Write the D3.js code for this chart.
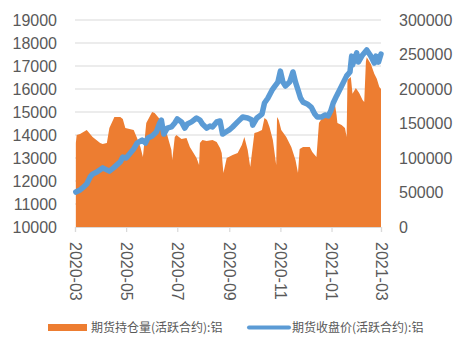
<!DOCTYPE html>
<html><head><meta charset="utf-8">
<script src="https://cdn.jsdelivr.net/npm/d3@7"></script>
<style>
html,body{margin:0;padding:0;background:#fff;}
svg{display:block;font-family:"Liberation Sans",Arial,sans-serif;}
</style></head>
<body>
<script>
// ---- data ----
const oiDates = ["2020-03-02","2020-03-03","2020-03-07","2020-03-15","2020-03-22","2020-03-31","2020-04-03","2020-04-08","2020-04-11","2020-04-17","2020-04-24","2020-04-27","2020-04-30","2020-05-10","2020-05-14","2020-05-18","2020-05-21","2020-05-25","2020-06-01","2020-06-04","2020-06-08","2020-06-13","2020-06-19","2020-06-24","2020-06-25","2020-06-28","2020-06-30","2020-07-06","2020-07-12","2020-07-16","2020-07-24","2020-07-27","2020-07-28","2020-07-31","2020-08-05","2020-08-12","2020-08-17","2020-08-21","2020-08-23","2020-08-25","2020-08-29","2020-09-05","2020-09-11","2020-09-16","2020-09-19","2020-09-23","2020-09-26","2020-10-01","2020-10-05","2020-10-10","2020-10-13","2020-10-16","2020-10-19","2020-10-23","2020-10-27","2020-10-28","2020-10-30","2020-11-02","2020-11-08","2020-11-14","2020-11-19","2020-11-22","2020-11-24","2020-11-28","2020-12-06","2020-12-09","2020-12-14","2020-12-17","2020-12-20","2020-12-28","2021-01-02","2021-01-05","2021-01-07","2021-01-08","2021-01-13","2021-01-17","2021-01-19","2021-01-20","2021-01-24","2021-01-26","2021-01-30","2021-02-03","2021-02-07","2021-02-09","2021-02-11","2021-02-12","2021-02-17","2021-02-21","2021-02-24","2021-02-27","2021-03-01"];
const oiValues = [121700,133300,134800,140600,130400,121700,120300,121700,143500,159400,159400,156500,143500,140600,129000,116000,101500,150700,166700,165200,159400,152200,133300,111600,97100,130400,133300,127500,129000,116000,100000,89900,121700,126100,124600,126100,123200,114500,107200,78300,100000,104300,107200,118800,130400,111600,87000,136200,137700,140600,158000,155100,144900,126100,89900,159400,155100,140600,130400,116000,97100,78300,113000,115900,115900,108700,101500,150700,156500,160900,166700,178300,162300,150700,147800,143500,130400,213000,217400,193000,201400,194200,184100,181200,240000,246000,236000,222000,215000,202900,200000];

const priceDates = ["2020-03-02","2020-03-07","2020-03-10","2020-03-15","2020-03-19","2020-03-22","2020-03-27","2020-04-03","2020-04-11","2020-04-16","2020-04-20","2020-04-24","2020-04-27","2020-05-01","2020-05-04","2020-05-10","2020-05-14","2020-05-20","2020-05-24","2020-05-27","2020-06-01","2020-06-06","2020-06-10","2020-06-12","2020-06-14","2020-06-15","2020-06-19","2020-06-24","2020-06-28","2020-07-01","2020-07-06","2020-07-10","2020-07-13","2020-07-18","2020-07-24","2020-07-28","2020-07-31","2020-08-05","2020-08-09","2020-08-12","2020-08-17","2020-08-21","2020-08-24","2020-08-28","2020-09-01","2020-09-05","2020-09-11","2020-09-17","2020-09-23","2020-09-28","2020-09-29","2020-10-04","2020-10-10","2020-10-13","2020-10-17","2020-10-22","2020-10-25","2020-10-29","2020-11-01","2020-11-04","2020-11-07","2020-11-12","2020-11-16","2020-11-19","2020-11-22","2020-11-25","2020-11-28","2020-12-03","2020-12-08","2020-12-12","2020-12-15","2020-12-20","2020-12-24","2020-12-28","2020-12-31","2021-01-03","2021-01-07","2021-01-13","2021-01-19","2021-01-23","2021-01-25","2021-01-26","2021-01-31","2021-02-02","2021-02-07","2021-02-10","2021-02-12","2021-02-16","2021-02-18","2021-02-21","2021-02-23","2021-02-26","2021-03-01"];
const priceValues = [11520,11610,11700,11870,12170,12300,12390,12570,12430,12570,12700,12830,13040,13000,13130,13390,13650,13780,13650,13870,13960,14130,14520,14650,14220,14040,14300,14350,14520,14700,14570,14300,14480,14570,14740,14650,14480,14300,14390,14350,14570,14610,14040,14130,14220,14350,14570,14780,14740,14650,14430,14740,14910,15390,15600,15950,16100,16300,16780,16300,16130,16300,16740,16300,15960,15610,15430,15350,15200,14910,14780,14780,14870,14830,15040,15390,15700,16130,16570,16740,17430,17040,17570,17170,17480,17610,17700,17480,17350,17130,17430,17170,17520];

const leftTicks = [10000,11000,12000,13000,14000,15000,16000,17000,18000,19000];
const rightTicks = [0,50000,100000,150000,200000,250000,300000];
const seriesNames = ["期货持仓量(活跃合约):铝","期货收盘价(活跃合约):铝"];
const seriesColors = ["#ED7D31","#5B9BD5"];

// ---- chart ----
const W = 465, H = 348;
const m = {left:75, right:84, top:20, bottom:121};
const parse = d3.timeParse("%Y-%m-%d");
const svg = d3.select("body").append("svg").attr("width",W).attr("height",H);

const x = d3.scaleTime().domain([parse("2020-03-01"), parse("2021-03-01")]).range([m.left, W - m.right]);
const yL = d3.scaleLinear().domain([10000,19000]).range([H - m.bottom, m.top]);
const yR = d3.scaleLinear().domain([0,300000]).range([H - m.bottom, m.top]);

// gridlines
svg.append("g").selectAll("line").data(leftTicks.slice(1)).join("line")
  .attr("x1", m.left).attr("x2", W - m.right)
  .attr("y1", d => yL(d)).attr("y2", d => yL(d))
  .attr("stroke","#D9D9D9").attr("stroke-width",1.2);

// area
const oi = oiDates.map((d,i) => ({d: parse(d), v: oiValues[i]}));
svg.append("path").datum(oi)
  .attr("fill", seriesColors[0])
  .attr("d", d3.area().x(p => x(p.d)).y0(yR(0)).y1(p => yR(p.v)));

// line
const pr = priceDates.map((d,i) => ({d: parse(d), v: priceValues[i]}));
svg.append("path").datum(pr)
  .attr("fill","none").attr("stroke", seriesColors[1]).attr("stroke-width",5.5)
  .attr("stroke-linejoin","round").attr("stroke-linecap","round")
  .attr("d", d3.line().x(p => x(p.d)).y(p => yL(p.v)));

// x axis
const xAxis = d3.axisBottom(x).ticks(d3.timeMonth.every(2)).tickFormat(d3.timeFormat("%Y-%m")).tickSize(5).tickPadding(0);
const gx = svg.append("g").attr("transform", `translate(0,${H - m.bottom})`).call(xAxis);
gx.select(".domain").attr("stroke","#D9D9D9").attr("stroke-width",1.2);
gx.selectAll(".tick line").attr("stroke","#D9D9D9").attr("stroke-width",1.2);
gx.selectAll(".tick text")
  .attr("fill","#595959").style("font-size","16px")
  .attr("text-anchor","start").attr("dy","0.35em")
  .attr("transform","translate(0,15) rotate(90)")
  .attr("x",0).attr("y",0);

// left axis
const gl = svg.append("g").attr("transform", `translate(${m.left},0)`)
  .call(d3.axisLeft(yL).tickValues(leftTicks).tickSize(0).tickPadding(18).tickFormat(d3.format("d")));
gl.select(".domain").remove();
gl.selectAll("text").attr("fill","#595959").style("font-size","16px");

// right axis
const gr = svg.append("g").attr("transform", `translate(${W - m.right},0)`)
  .call(d3.axisRight(yR).tickValues(rightTicks).tickSize(0).tickPadding(18).tickFormat(d3.format("d")));
gr.select(".domain").remove();
gr.selectAll("text").attr("fill","#595959").style("font-size","16px");

// legend
const lg = svg.append("g").style("font-family",'"Noto Sans CJK SC",sans-serif').style("font-size","12px");
lg.append("rect").attr("x",48).attr("y",324).attr("width",39).attr("height",7).attr("fill",seriesColors[0]);
lg.append("text").attr("x",91).attr("y",327.5).attr("dy","0.35em").attr("fill","#595959").text(seriesNames[0]);
lg.append("line").attr("x1",249).attr("x2",289).attr("y1",327.5).attr("y2",327.5)
  .attr("stroke",seriesColors[1]).attr("stroke-width",4).attr("stroke-linecap","round");
lg.append("text").attr("x",292).attr("y",327.5).attr("dy","0.35em").attr("fill","#595959").text(seriesNames[1]);
</script>
</body></html>
